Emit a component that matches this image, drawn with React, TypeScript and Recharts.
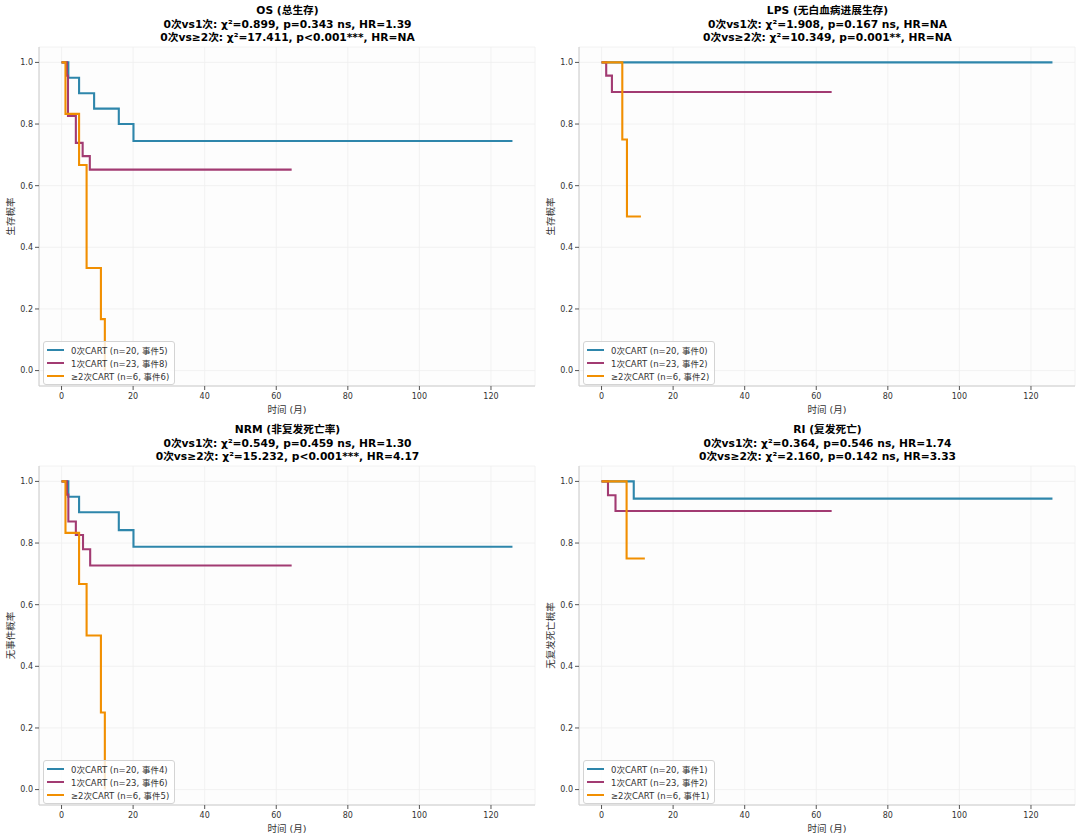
import React from 'react';
import { LineChart, Line, XAxis, YAxis, CartesianGrid } from 'recharts';

const BLUE = '#2E86AB';
const MAGENTA = '#A23B72';
const ORANGE = '#F18F01';

const xTicks = [0, 20, 40, 60, 80, 100, 120];
const yTicks = [0, 0.2, 0.4, 0.6, 0.8, 1.0];

// OS (总生存)
const osT0 = [0, 1.9, 4.9, 9.1, 16, 20.1, 126];
const osS0 = [1, 0.95, 0.9, 0.85, 0.8, 0.745, 0.745];
const osT1 = [0, 1.5, 1.8, 4, 5.9, 7.9, 64.3];
const osS1 = [1, 0.957, 0.826, 0.739, 0.696, 0.652, 0.652];
const osT2 = [0, 1.1, 4.9, 7, 11, 12.1];
const osS2 = [1, 0.833, 0.667, 0.333, 0.167, 0];

// LPS (无白血病进展生存)
const lpsT0 = [0, 126];
const lpsS0 = [1, 1];
const lpsT1 = [0, 1.3, 2.9, 64.3];
const lpsS1 = [1, 0.957, 0.904, 0.904];
const lpsT2 = [0, 5.8, 7.1, 11];
const lpsS2 = [1, 0.75, 0.5, 0.5];

// NRM (非复发死亡率)
const nrmT0 = [0, 1.9, 4.9, 16, 20.1, 126];
const nrmS0 = [1, 0.95, 0.9, 0.842, 0.788, 0.788];
const nrmT1 = [0, 1.5, 1.9, 4, 6, 8, 64.3];
const nrmS1 = [1, 0.957, 0.87, 0.826, 0.78, 0.727, 0.727];
const nrmT2 = [0, 1.1, 4.9, 7, 11, 12.1];
const nrmS2 = [1, 0.833, 0.667, 0.5, 0.25, 0];

// RI (复发死亡)
const riT0 = [0, 9, 126];
const riS0 = [1, 0.944, 0.944];
const riT1 = [0, 1.8, 3.9, 64.3];
const riS1 = [1, 0.955, 0.904, 0.904];
const riT2 = [0, 7, 12.1];
const riS2 = [1, 0.75, 0.75];

const groupNames = ['0次CART', '1次CART', '≥2次CART'];
const groupSizes = [20, 23, 6];
const groupColors = [BLUE, MAGENTA, ORANGE];

const osEvents = [5, 8, 6];
const lpsEvents = [0, 2, 2];
const nrmEvents = [4, 6, 5];
const riEvents = [1, 2, 1];

const zip = (t: number[], s: number[]) => t.map((v, i) => ({ t: v, s: s[i] }));

type Curve = { t: number[]; s: number[] };

type PanelProps = {
  left: number;
  top: number;
  title: string[];
  yLabel: string;
  curves: Curve[];
  events: number[];
};

const FONT = '"DejaVu Sans", "Noto Sans CJK SC", sans-serif';

function KMPanel({ left, top, title, yLabel, curves, events }: PanelProps) {
  return (
    <div style={{ position: 'absolute', left, top, width: 540, height: 419 }}>
      <div
        style={{
          position: 'absolute',
          left: 0,
          top: 4,
          width: 575,
          textAlign: 'center',
          fontWeight: 'bold',
          fontSize: 10.7,
          lineHeight: '13.6px',
          color: '#000',
          whiteSpace: 'nowrap',
        }}
      >
        {title.map((line) => (
          <div key={line}>{line}</div>
        ))}
      </div>
      <LineChart width={540} height={419} margin={{ top: 47, right: 5, left: 0, bottom: 0 }}>
        <CartesianGrid stroke="#efefef" strokeWidth={0.8} fill="#fdfdfd" />
        <XAxis
          type="number"
          dataKey="t"
          domain={[-6.3, 132.3]}
          ticks={xTicks}
          allowDataOverflow
          height={33}
          tickSize={4}
          tickMargin={3}
          axisLine={{ stroke: '#cccccc' }}
          tickLine={{ stroke: '#555' }}
          tick={{ fontSize: 8, fill: '#333' }}
          label={{ value: '时间 (月)', position: 'insideBottom', offset: 6, fontSize: 9.5, fill: '#333' }}
        />
        <YAxis
          type="number"
          domain={[-0.05, 1.05]}
          ticks={yTicks}
          allowDataOverflow
          width={39}
          tickSize={4}
          tickMargin={2}
          axisLine={{ stroke: '#cccccc' }}
          tickLine={{ stroke: '#555' }}
          tick={{ fontSize: 8, fill: '#333' }}
          tickFormatter={(v: number) => v.toFixed(1)}
          label={{
            value: yLabel,
            angle: -90,
            position: 'insideLeft',
            offset: 11,
            textAnchor: 'middle',
            fontSize: 9.5,
            fill: '#333',
          }}
        />
        {curves.map((c, i) => (
          <Line
            key={groupNames[i]}
            data={zip(c.t, c.s)}
            dataKey="s"
            type="stepAfter"
            stroke={groupColors[i]}
            strokeWidth={2.1}
            dot={false}
            activeDot={false}
            isAnimationActive={false}
          />
        ))}
      </LineChart>
      <div
        style={{
          position: 'absolute',
          left: 43,
          top: 341,
          border: '1px solid #d4d4d4',
          borderRadius: 3,
          background: 'rgba(255,255,255,0.8)',
          padding: '1px 5px 1px 3px',
          fontSize: 8.5,
          color: '#333',
        }}
      >
        {groupNames.map((name, i) => (
          <div key={name} style={{ display: 'flex', alignItems: 'center', height: 13.4, whiteSpace: 'nowrap' }}>
            <span style={{ display: 'inline-block', width: 17, height: 2, background: groupColors[i], marginRight: 7 }} />
            <span>{`${name} (n=${groupSizes[i]}, 事件${events[i]})`}</span>
          </div>
        ))}
      </div>
    </div>
  );
}

export default function App() {
  return (
    <div
      style={{
        position: 'absolute',
        left: 0,
        top: 0,
        width: 1080,
        height: 839,
        background: '#fff',
        fontFamily: FONT,
      }}
    >
      <KMPanel
        left={0}
        top={0}
        title={['OS (总生存)', '0次vs1次: χ²=0.899, p=0.343 ns, HR=1.39', '0次vs≥2次: χ²=17.411, p<0.001***, HR=NA']}
        yLabel="生存概率"
        curves={[{ t: osT0, s: osS0 }, { t: osT1, s: osS1 }, { t: osT2, s: osS2 }]}
        events={osEvents}
      />
      <KMPanel
        left={540}
        top={0}
        title={['LPS (无白血病进展生存)', '0次vs1次: χ²=1.908, p=0.167 ns, HR=NA', '0次vs≥2次: χ²=10.349, p=0.001**, HR=NA']}
        yLabel="生存概率"
        curves={[{ t: lpsT0, s: lpsS0 }, { t: lpsT1, s: lpsS1 }, { t: lpsT2, s: lpsS2 }]}
        events={lpsEvents}
      />
      <KMPanel
        left={0}
        top={419}
        title={['NRM (非复发死亡率)', '0次vs1次: χ²=0.549, p=0.459 ns, HR=1.30', '0次vs≥2次: χ²=15.232, p<0.001***, HR=4.17']}
        yLabel="无事件概率"
        curves={[{ t: nrmT0, s: nrmS0 }, { t: nrmT1, s: nrmS1 }, { t: nrmT2, s: nrmS2 }]}
        events={nrmEvents}
      />
      <KMPanel
        left={540}
        top={419}
        title={['RI (复发死亡)', '0次vs1次: χ²=0.364, p=0.546 ns, HR=1.74', '0次vs≥2次: χ²=2.160, p=0.142 ns, HR=3.33']}
        yLabel="无复发死亡概率"
        curves={[{ t: riT0, s: riS0 }, { t: riT1, s: riS1 }, { t: riT2, s: riS2 }]}
        events={riEvents}
      />
    </div>
  );
}
